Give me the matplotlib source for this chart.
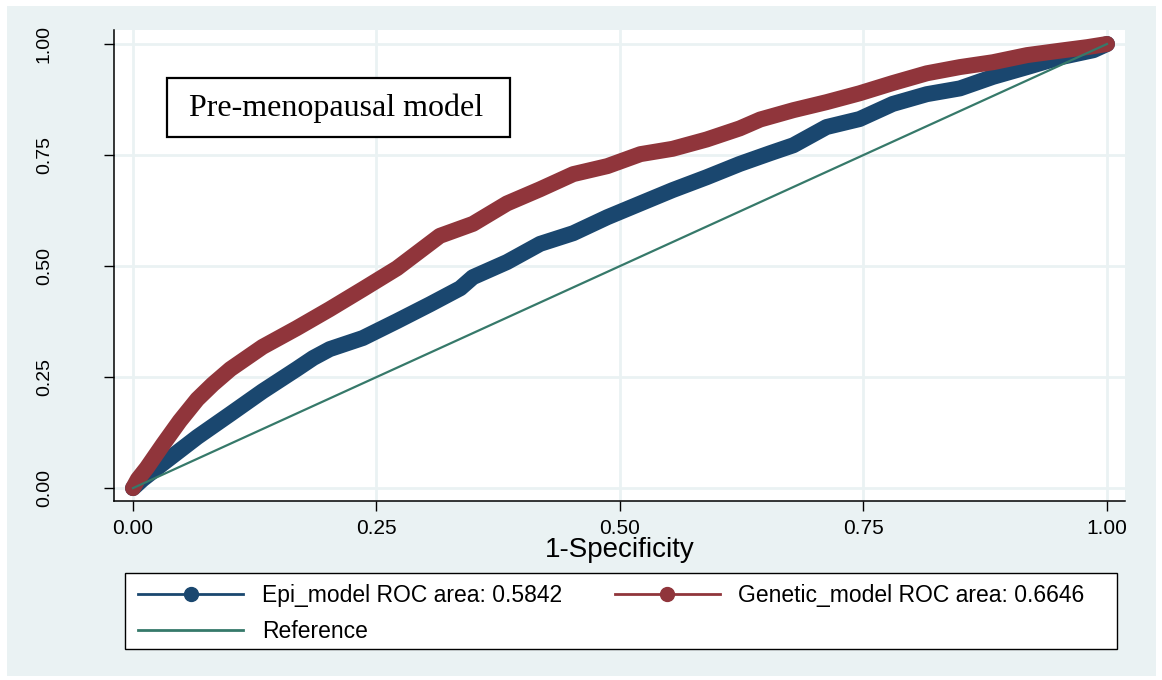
import matplotlib.pyplot as plt
from matplotlib.lines import Line2D
from matplotlib.patches import Rectangle

# ROC coordinates (1-specificity, sensitivity)
epi_fpr = [0.0, 0.010, 0.031, 0.066, 0.100, 0.133, 0.168, 0.185, 0.202, 0.236,
           0.271, 0.305, 0.336, 0.349, 0.384, 0.418, 0.452, 0.487, 0.521, 0.554,
           0.589, 0.623, 0.654, 0.678, 0.712, 0.746, 0.780, 0.815, 0.849, 0.883,
           0.918, 0.952, 0.986, 1.0]
epi_tpr = [0.0, 0.020, 0.056, 0.115, 0.167, 0.218, 0.268, 0.293, 0.313, 0.338,
           0.376, 0.414, 0.450, 0.475, 0.509, 0.550, 0.574, 0.610, 0.641, 0.671,
           0.700, 0.730, 0.754, 0.772, 0.813, 0.831, 0.865, 0.887, 0.900, 0.926,
           0.948, 0.970, 0.986, 1.0]

gen_fpr = [0.0, 0.005, 0.014, 0.031, 0.048, 0.066, 0.082, 0.100, 0.133, 0.168,
           0.202, 0.236, 0.271, 0.315, 0.349, 0.384, 0.418, 0.452, 0.487, 0.521,
           0.554, 0.589, 0.623, 0.644, 0.678, 0.712, 0.746, 0.780, 0.815, 0.849,
           0.883, 0.918, 0.952, 0.980, 1.0]
gen_tpr = [0.0, 0.020, 0.045, 0.099, 0.151, 0.200, 0.234, 0.268, 0.318, 0.360,
           0.403, 0.448, 0.495, 0.568, 0.595, 0.641, 0.673, 0.707, 0.725, 0.752,
           0.764, 0.785, 0.810, 0.830, 0.851, 0.869, 0.889, 0.912, 0.934, 0.948,
           0.959, 0.975, 0.985, 0.993, 1.0]

ref_line = [0.0, 1.0]

epi_auc = 0.5842
gen_auc = 0.6646
ticks = [0.0, 0.25, 0.50, 0.75, 1.00]
tick_labels = ["0.00", "0.25", "0.50", "0.75", "1.00"]

navy = "#1a476f"
maroon = "#90353b"
teal = "#36796a"
bg = "#eaf2f3"

plt.rcParams['font.family'] = ['Liberation Sans', 'DejaVu Sans']

W, H = 1162, 680
fig = plt.figure(figsize=(W / 100, H / 100), dpi=100, facecolor="white")


def box(x0, y0, x1, y1, **kw):
    # rectangle given in pixel coords measured from the top-left corner
    r = Rectangle((x0 / W, 1 - y1 / H), (x1 - x0) / W, (y1 - y0) / H,
                  transform=fig.transFigure, **kw)
    fig.patches.append(r)
    return r


# light graph region behind everything
box(7, 6, 1156, 676, facecolor=bg, edgecolor="none", zorder=-10)

ax = fig.add_axes([114 / W, 1 - 501 / H, (1125 - 114) / W, (501 - 30) / H])
ax.set_facecolor("white")

ax.plot(epi_fpr, epi_tpr, color=navy, lw=11.5, solid_capstyle="round",
        solid_joinstyle="round", zorder=2)
ax.plot(gen_fpr, gen_tpr, color=maroon, lw=11.5, solid_capstyle="round",
        solid_joinstyle="round", zorder=3)
ax.plot(ref_line, ref_line, color=teal, lw=1.6, zorder=4)

ax.set_xlim(-0.0195, 1.0185)
ax.set_ylim(-0.029, 1.0315)
ax.set_xticks(ticks)
ax.set_xticklabels(tick_labels)
ax.set_yticks(ticks)
ax.set_yticklabels(tick_labels, rotation=90, va="center")
ax.grid(True, color=bg, lw=2)
ax.set_axisbelow(True)
for s in ["top", "right"]:
    ax.spines[s].set_visible(False)
for s in ["left", "bottom"]:
    ax.spines[s].set_color("black")
    ax.spines[s].set_linewidth(1.1)
ax.tick_params(axis="x", length=7, width=1, labelsize=15, pad=6)
ax.tick_params(axis="y", length=7, width=1, labelsize=14, pad=37)
ax.set_xlabel("1-Specificity", fontsize=20, labelpad=-1)

# model title box
box(167, 78, 510, 137, facecolor="white", edgecolor="black", lw=1.6, zorder=5)
fig.text((167 + 505) / 2 / W, 1 - 108 / H, "Pre-menopausal model",
         family=["Liberation Serif", "DejaVu Serif"], fontsize=23,
         ha="center", va="center", zorder=6)

# legend frame, entries placed inside it
box(125, 573, 1117, 649, facecolor="white", edgecolor="black", lw=1.0, zorder=1)
handles = [
    Line2D([], [], color=navy, lw=2, marker="o", markersize=10),
    Line2D([], [], color=teal, lw=2),
    Line2D([], [], color=maroon, lw=2, marker="o", markersize=10),
]
labels = [f"Epi_model ROC area: {epi_auc:.4f}", "Reference",
          f"Genetic_model ROC area: {gen_auc:.4f}"]
leg = fig.legend(handles, labels, ncol=2, numpoints=1,
                 loc="upper left", bbox_to_anchor=(138 / W, 1 - 584 / H),
                 fontsize=16.5, frameon=False,
                 handlelength=4.6, handletextpad=0.8, borderpad=0,
                 labelspacing=0.55, columnspacing=2.3, borderaxespad=0)

fig.savefig("out.png", dpi=100, facecolor="white")
